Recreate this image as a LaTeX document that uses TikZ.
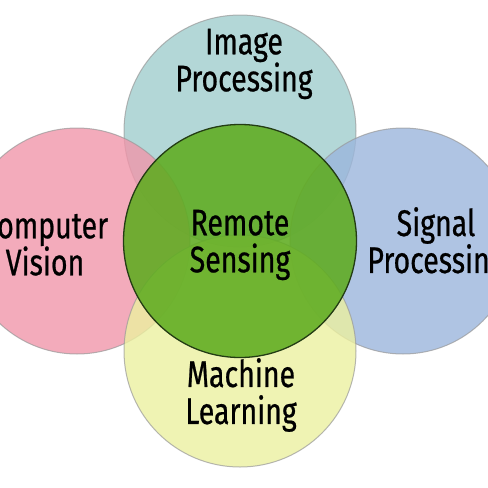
\documentclass[tikz,border=0pt]{standalone}
\usepackage{fontspec}
\setmainfont{Fira Sans}[FakeStretch=0.77,FakeBold=0.6]
\definecolor{tealc}{RGB}{160,205,205}
\definecolor{pinkc}{RGB}{240,150,170}
\definecolor{bluec}{RGB}{155,182,220}
\definecolor{yellowc}{RGB}{236,240,160}
\definecolor{greenc}{RGB}{95,172,32}
\definecolor{rimc}{RGB}{35,60,20}

\begin{document}
\begin{tikzpicture}[x=1pt,y=-1pt,
	ring/.style={circle,draw=gray!80,line width=1pt,draw opacity=0.7,fill opacity=0.8,inner sep=0pt},
	word/.style={align=center,font=\fontsize{37}{37}\selectfont,text=black}]
			\useasboundingbox[fill=white] (0,0) rectangle (488,488);
			
			\node[ring,fill=tealc,minimum size=232pt] (image)at(240,131) {};
			\node[ring,fill=pinkc,minimum size=226pt] (vision)at(77,241) {};
			\node[ring,fill=bluec,minimum size=226pt] (signal)at(403,241) {};
			\node[ring,fill=yellowc,minimum size=232pt] (learning)at(240,351) {};
			\node[circle,draw=rimc,line width=1.3pt,fill=greenc,fill opacity=0.88,minimum size=233pt,inner sep=0pt] (remote)at(240,241) {};
			
			\node[word] (imagetext)at(244,64) {Image\\Processing};
			\node[word] (visiontext)at(45,244) {Computer\\Vision};
			\node[word] (signaltext)at(436,244) {Signal\\Processing};
			\node[word] (learningtext)at(241,395) {Machine\\Learning};
			\node[word] (remotetext)at(240,245) {Remote\\Sensing};
		\end{tikzpicture}
\end{document}
